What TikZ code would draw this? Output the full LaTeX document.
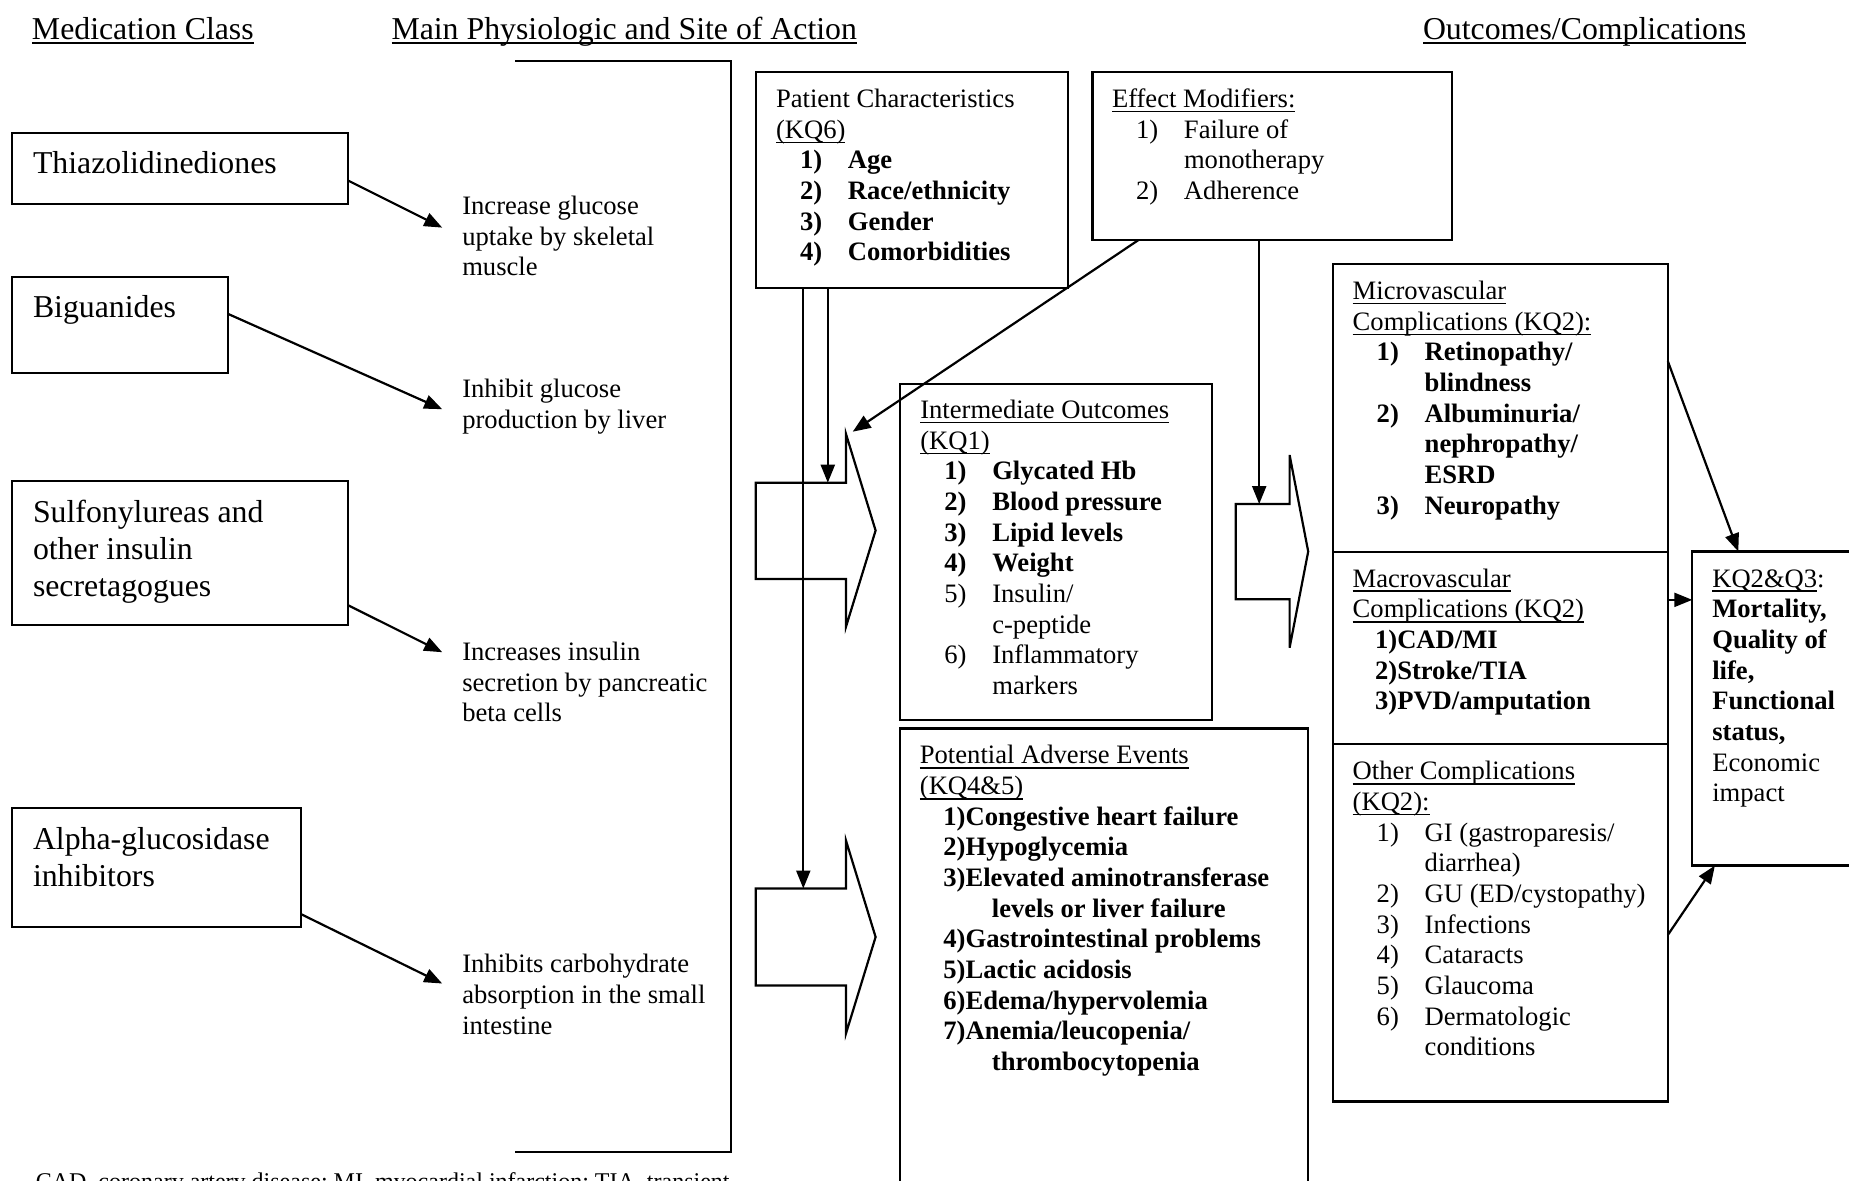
\documentclass[tikz,border=0pt]{standalone}
\usepackage{fontspec}
\setmainfont{Liberation Serif}
\usetikzlibrary{arrows.meta,calc}
\newcommand\bigf{\fontsize{15.9pt}{18.5pt}\selectfont}
\newcommand\smallf{\fontsize{13.3pt}{15.33pt}\selectfont}
\newcommand\ulin[1]{\setbox0=\hbox{#1}\rlap{\rule[-2.5pt]{\wd0}{0.8pt}}\box0}
\newcommand\itm[2]{\hspace*{12pt}\makebox[24pt][l]{#1}#2}
\newcommand\cont[1]{\hspace*{36pt}#1}
\begin{document}
\begin{tikzpicture}[x=0.5pt,y=-0.5pt,
  box/.style={draw, line width=1.1pt, inner sep=0, outer sep=0, anchor=north west},
  txt/.style={anchor=north west, inner sep=0, outer sep=0, align=left, font=\smallf},
  bigtxt/.style={txt, font=\bigf},
  ln/.style={line width=1.1pt},
  arr/.style={line width=1.1pt, -{Triangle[length=9pt,width=7pt]}}]
\useasboundingbox (0,0) rectangle (1849,1180);

% headers
\node[bigtxt] (h1) at (32,13.1) {\strut\ulin{Medication Class}};
\node[bigtxt] (h2) at (391.5,13.1) {\strut\ulin{Main Physiologic and Site of Action}};
\node[bigtxt] (h3) at (1423,13.1) {\strut\ulin{Outcomes/Complications}};

% medication classes
\node[box, minimum width=168.05pt, minimum height=35.35pt] (thia) at (11.8,133.3) {};
\node[box, minimum width=107.9pt, minimum height=47.8pt] (bigu) at (11.8,277.1) {};
\node[box, minimum width=168.05pt, minimum height=71.9pt] (sulf) at (11.8,481.2) {};
\node[box, minimum width=144.45pt, minimum height=59.55pt] (alph) at (11.8,807.8) {};
\node[bigtxt] (thiat) at (33,147.1) {\strut Thiazolidinediones};
\node[bigtxt] (bigut) at (33,291.1) {\strut Biguanides};
\node[bigtxt] (sulft) at (33,496.1) {\strut Sulfonylureas and\\other insulin\\secretagogues};
\node[bigtxt] (alpht) at (33,823.1) {\strut Alpha-glucosidase\\inhibitors};

% actions
\node[txt] (act1) at (462.3,193) {\strut Increase glucose\\uptake by skeletal\\muscle};
\node[txt] (act2) at (462.3,376) {\strut Inhibit glucose\\production by liver};
\node[txt] (act3) at (462.3,639) {\strut Increases insulin\\secretion by pancreatic\\beta cells};
\node[txt] (act4) at (462.3,951.5) {\strut Inhibits carbohydrate\\absorption in the small\\intestine};

\coordinate (t1) at (442.2,227.6);
\coordinate (t2) at (442.2,409.2);
\coordinate (t3) at (442.2,652.2);
\coordinate (t4) at (442.2,983.5);
\draw[arr] ([yshift=-5.9pt]thia.east) -- (t1);
\draw[arr] ([yshift=5.6pt]bigu.east) -- (t2);
\draw[arr] ([yshift=-26pt]sulf.east) -- (t3);
\draw[arr] ([yshift=-23.3pt]alph.east) -- (t4);

% bracket
\draw[ln] (515.4,61.3) -- (731.2,61.3) -- (731.2,1152.2) -- (515.4,1152.2);

% patient characteristics
\node[box, minimum width=156pt, minimum height=107.95pt] (pat) at (756,71.8) {};
\node[txt] (patt) at (776,86) {\strut Patient Characteristics\\\ulin{(KQ6)}\\
\itm{\textbf{1)}}{\textbf{Age}}\\
\itm{\textbf{2)}}{\textbf{Race/ethnicity}}\\
\itm{\textbf{3)}}{\textbf{Gender}}\\
\itm{\textbf{4)}}{\textbf{Comorbidities}}};

% effect modifiers
\node[box, minimum width=179.75pt, minimum height=84.1pt] (eff) at (1092.5,71.8) {};
\node[txt] (efft) at (1112,86) {\strut\ulin{Effect Modifiers:}\\
\itm{1)}{Failure of}\\
\cont{monotherapy}\\
\itm{2)}{Adherence}};

% intermediate outcomes
\node[box, minimum width=155.85pt, minimum height=167.9pt] (inter) at (900,384.2) {};
\node[txt] (intert) at (920.3,397) {\strut\ulin{Intermediate Outcomes}\\\ulin{(KQ1)}\\
\itm{\textbf{1)}}{\textbf{Glycated Hb}}\\
\itm{\textbf{2)}}{\textbf{Blood pressure}}\\
\itm{\textbf{3)}}{\textbf{Lipid levels}}\\
\itm{\textbf{4)}}{\textbf{Weight}}\\
\itm{5)}{Insulin/}\\
\cont{c-peptide}\\
\itm{6)}{Inflammatory}\\
\cont{markers}};

% adverse events
\node[box, minimum width=204pt, minimum height=270pt] (adv) at (900,728.5) {};
\node[txt] (advt) at (919.9,742.4) {\strut\ulin{Potential Adverse Events}\\\ulin{(KQ4\&5)}\\
\hspace*{11.75pt}\textbf{1)Congestive heart failure}\\
\hspace*{11.75pt}\textbf{2)Hypoglycemia}\\
\hspace*{11.75pt}\textbf{3)Elevated aminotransferase}\\
\cont{\textbf{levels or liver failure}}\\
\hspace*{11.75pt}\textbf{4)Gastrointestinal problems}\\
\hspace*{11.75pt}\textbf{5)Lactic acidosis}\\
\hspace*{11.75pt}\textbf{6)Edema/hypervolemia}\\
\hspace*{11.75pt}\textbf{7)Anemia/leucopenia/}\\
\cont{\textbf{thrombocytopenia}}};

% complications
\node[box, minimum width=167.6pt, minimum height=143.9pt] (micro) at (1332.6,264.2) {};
\node[box, minimum width=167.6pt, minimum height=95.85pt] (macro) at (1332.6,552) {};
\node[box, minimum width=167.6pt, minimum height=178.9pt] (other) at (1332.6,743.7) {};
\node[txt] (microt) at (1352.7,278) {\strut\ulin{Microvascular}\\\ulin{Complications (KQ2):}\\
\itm{\textbf{1)}}{\textbf{Retinopathy/}}\\
\cont{\textbf{blindness}}\\
\itm{\textbf{2)}}{\textbf{Albuminuria/}}\\
\cont{\textbf{nephropathy/}}\\
\cont{\textbf{ESRD}}\\
\itm{\textbf{3)}}{\textbf{Neuropathy}}};
\node[txt] (macrot) at (1352.7,565.6) {\strut\ulin{Macrovascular}\\\ulin{Complications (KQ2)}\\
\hspace*{11.2pt}\textbf{1)CAD/MI}\\
\hspace*{11.2pt}\textbf{2)Stroke/TIA}\\
\hspace*{11.2pt}\textbf{3)PVD/amputation}};
\node[txt] (othert) at (1352.7,758.3) {\strut\ulin{Other Complications}\\\ulin{(KQ2):}\\
\itm{1)}{GI (gastroparesis/}\\
\cont{diarrhea)}\\
\itm{2)}{GU (ED/cystopathy)}\\
\itm{3)}{Infections}\\
\itm{4)}{Cataracts}\\
\itm{5)}{Glaucoma}\\
\itm{6)}{Dermatologic}\\
\cont{conditions}};

% final outcomes
\node[box, minimum width=90pt, minimum height=157pt] (outc) at (1692.3,551.5) {};
\node[txt] (outct) at (1712.3,565.6) {\strut\ulin{KQ2\&Q3}:\\
\textbf{Mortality,}\\
\textbf{Quality of}\\
\textbf{life,}\\
\textbf{Functional}\\
\textbf{status,}\\
Economic\\
impact};

% block arrows
\draw[ln] (755.8,482.7) -- (846,482.7) -- (846,434) -- (875.6,530.5) -- (846,626.7) -- (846,579) -- (755.8,579) -- cycle;
\draw[ln] (755.8,888.5) -- (846,888.5) -- (846,840.6) -- (875.6,937) -- (846,1033.4) -- (846,985.5) -- (755.8,985.5) -- cycle;
\draw[ln] (1235.8,504) -- (1289.6,504) -- (1289.6,455) -- (1308.2,551.5) -- (1289.6,647.7) -- (1289.6,599.3) -- (1235.8,599.3) -- cycle;

\coordinate (ba1) at (827.8,482.7);
\coordinate (ba3) at (803.3,888.5);
\coordinate (ba2) at (1259.2,504);
\coordinate (ba1h) at (852.7,431.7);
\draw[arr] (pat.south -| ba1) -- (ba1);
\draw[arr] (pat.south -| ba3) -- (ba3);
\draw[arr] (eff.south -| ba2) -- (ba2);
\draw[arr] ([xshift=23pt]eff.south west) -- (ba1h);
\draw[arr] ([yshift=23.5pt]micro.east) -- ([xshift=23pt]outc.north west);
\draw[arr] ([yshift=24pt]macro.east) -- ([yshift=24pt]macro.east -| outc.west);
\draw[arr] ([yshift=-6.2pt]other.east) -- ([xshift=11.3pt]outc.south west);

% footnote (cut by the page edge)
\node[anchor=base west, inner sep=0, font=\fontsize{12pt}{14pt}\selectfont] (foot) at (35.4,1189) {CAD, coronary artery disease; MI, myocardial infarction; TIA, transient};
\end{tikzpicture}
\end{document}
